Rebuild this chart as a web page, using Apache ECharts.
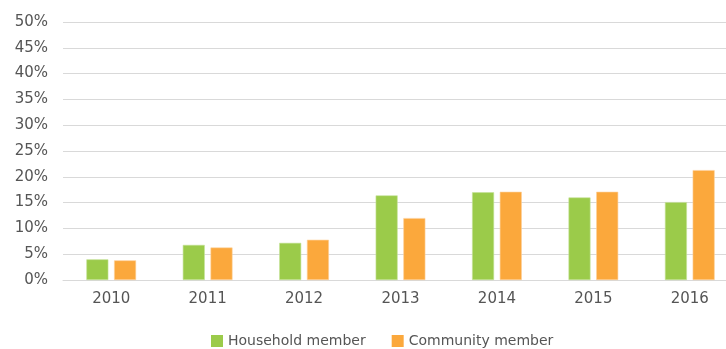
<!DOCTYPE html>
<html>
<head>
<meta charset="utf-8">
<script src="https://cdn.jsdelivr.net/npm/echarts@6/dist/echarts.min.js"></script>
<style>html,body{margin:0;padding:0;background:#fff;}#c{width:726px;height:349px;}</style>
</head>
<body>
<div id="c"></div>
<script>
const categories = ['2010','2011','2012','2013','2014','2015','2016'];
const household = [4.0, 6.8, 7.2, 16.4, 17.0, 16.0, 15.1];
const community = [3.8, 6.3, 7.8, 12.0, 17.1, 17.1, 21.3];
const yTicks = [0,5,10,15,20,25,30,35,40,45,50];

const chart = echarts.init(document.getElementById('c'));
const txt = '#555555';
const font = '"DejaVu Sans", sans-serif';
chart.setOption({
  animation: false,
  textStyle: {fontFamily: font},
  grid: {left: 63, width: 675, top: 22, height: 258, outerBoundsMode: 'none', containLabel: false},
  legend: {
    left: 211, top: 334, padding: 0,
    itemWidth: 12, itemHeight: 12, itemGap: 26,
    icon: 'rect',
    itemStyle: {borderWidth: 0},
    textStyle: {color: txt, fontSize: 14, fontFamily: font},
    data: ['Household member', 'Community member']
  },
  xAxis: {
    type: 'category', data: categories,
    axisLine: {lineStyle: {color: '#d9d9d9'}},
    axisTick: {show: false},
    axisLabel: {color: txt, fontSize: 15, margin: 12, fontFamily: font}
  },
  yAxis: {
    type: 'value', min: yTicks[0], max: yTicks[yTicks.length-1], interval: 5,
    axisLine: {show: false}, axisTick: {show: false},
    splitLine: {lineStyle: {color: '#d9d9d9'}},
    axisLabel: {color: txt, fontSize: 15, margin: 15, formatter: v => v + '%', fontFamily: font}
  },
  series: [
    {name: 'Household member', type: 'bar', data: household, barWidth: 22, barGap: '26%',
     itemStyle: {color: '#9bcb4a', borderColor: '#c6e39a', borderWidth: 0.6}},
    {name: 'Community member', type: 'bar', data: community, barWidth: 22, barGap: '26%',
     itemStyle: {color: '#fba83c', borderColor: '#fdd09a', borderWidth: 0.6}}
  ]
});
</script>
</body>
</html>
